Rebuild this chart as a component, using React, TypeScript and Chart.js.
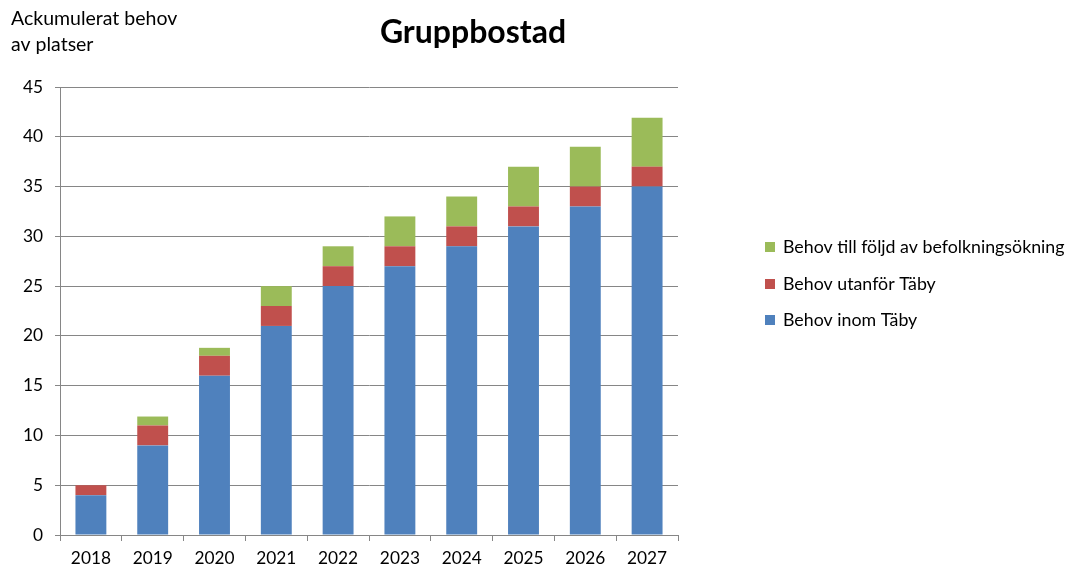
import React, { useEffect, useRef } from "react";
import { Chart, registerables } from "chart.js";
Chart.register(...registerables);

const years = ["2018", "2019", "2020", "2021", "2022", "2023", "2024", "2025", "2026", "2027"];
const inomTaby = [4, 9, 16, 21, 25, 27, 29, 31, 33, 35];
const utanforTaby = [1, 2, 2, 2, 2, 2, 2, 2, 2, 2];
const befolkning = [0, 0.9, 0.8, 2, 2, 3, 3, 4, 4, 4.9];
const seriesNames = ["Behov inom Täby", "Behov utanför Täby", "Behov till följd av befolkningsökning"];
const seriesColors = ["#4F81BD", "#C0504D", "#9BBB59"];
const chartTitle = "Gruppbostad";
const yTitleLines = ["Ackumulerat behov", "av platser"];

const FONT = "Lato, 'Open Sans', sans-serif";

const decorPlugin = {
  id: "decor",
  afterDraw(chart: any) {
    const ctx = chart.ctx;
    ctx.save();
    // title
    ctx.fillStyle = "#000";
    ctx.font = `bold 32px ${FONT}`;
    ctx.textAlign = "center";
    ctx.textBaseline = "middle";
    ctx.fillText(chartTitle, 473, 33);
    // y title
    ctx.font = `19.5px ${FONT}`;
    ctx.textAlign = "left";
    ctx.fillText(yTitleLines[0], 11, 19);
    ctx.fillText(yTitleLines[1], 11, 45);
    // legend (reversed)
    ctx.font = `17.8px ${FONT}`;
    const ys = [320, 284, 247];
    for (let i = 0; i < 3; i++) {
      ctx.fillStyle = seriesColors[i];
      ctx.fillRect(765, ys[i] - 5, 10, 10);
      ctx.fillStyle = "#000";
      ctx.fillText(seriesNames[i], 783, ys[i]);
    }
    ctx.restore();
  },
};

export default function App() {
  const ref = useRef<HTMLCanvasElement>(null);
  useEffect(() => {
    document.body.style.margin = "0";
    const chart = new Chart(ref.current!, {
      type: "bar",
      data: {
        labels: years,
        datasets: [
          { label: seriesNames[0], data: inomTaby, backgroundColor: seriesColors[0] },
          { label: seriesNames[1], data: utanforTaby, backgroundColor: seriesColors[1] },
          { label: seriesNames[2], data: befolkning, backgroundColor: seriesColors[2] },
        ],
      },
      options: {
        responsive: false,
        animation: false,
        layout: { padding: { left: 0, top: 87, right: 391, bottom: 0 } },
        datasets: { bar: { barPercentage: 0.5, categoryPercentage: 1 } } as any,
        plugins: { legend: { display: false }, title: { display: false }, tooltip: { enabled: false } },
        scales: {
          x: {
            stacked: true,
            afterFit(scale: any) { scale.height = 32; },
            grid: { offset: true, drawOnChartArea: false, drawTicks: true, tickLength: 6, color: "#868686" },
            border: { color: "#868686" },
            ticks: { color: "#000", font: { family: FONT, size: 17.3 }, padding: 7 },
          },
          y: {
            stacked: true,
            min: 0,
            max: 45,
            afterFit(scale: any) { scale.width = 60; },
            grid: { color: "#868686", tickLength: 5 },
            border: { color: "#868686" },
            ticks: { stepSize: 5, color: "#000", font: { family: FONT, size: 17.3 }, padding: 12 },
          },
        },
      },
      plugins: [decorPlugin],
    });
    return () => chart.destroy();
  }, []);
  return <canvas ref={ref} width={1069} height={567} style={{ display: "block" }} />;
}
